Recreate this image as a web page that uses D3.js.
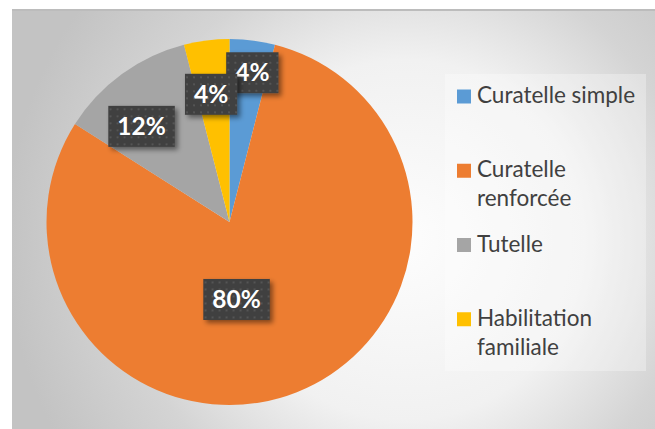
<!DOCTYPE html>
<html><head><meta charset="utf-8">
<script src="https://cdn.jsdelivr.net/npm/d3@7"></script>
<style>html,body{margin:0;padding:0;background:#fff;overflow:hidden}</style>
</head><body>
<svg id="chart" width="655" height="429"></svg>
<script>
// ---- data ----
const categories = ["Curatelle simple", "Curatelle renforcée", "Tutelle", "Habilitation familiale"];
const values = [4, 80, 12, 4];
const legendLines = [["Curatelle simple"], ["Curatelle", "renforcée"], ["Tutelle"], ["Habilitation", "familiale"]];
const colors = ["#5B9BD5", "#ED7D31", "#A5A5A5", "#FFC000"];

// ---- layout ----
const W = 655, H = 429;
const cx = 229.5, cy = 222, R = 183;
const labelRadiusFrac = [0.825, 0.425, 0.71, 0.705];
const labelAngleShiftDeg = [1.5, 16.4, -6.6, -1.0];
const FONT = "Lato, 'Open Sans', sans-serif";

const svg = d3.select("#chart");
const defs = svg.append("defs");

const grad = defs.append("radialGradient").attr("id", "bg")
  .attr("gradientUnits", "userSpaceOnUse")
  .attr("cx", 405).attr("cy", 240).attr("r", 400);
[[0, "#fdfdfd"], [0.45, "#f1f1f1"], [0.72, "#d4d4d4"], [1, "#c3c3c3"]]
  .forEach(([o, c]) => grad.append("stop").attr("offset", o).attr("stop-color", c));

const pat = defs.append("pattern").attr("id", "dots")
  .attr("patternUnits", "userSpaceOnUse").attr("width", 7).attr("height", 7);
pat.append("rect").attr("width", 7).attr("height", 7).attr("fill", "#3f3f3f");
pat.append("rect").attr("x", 3).attr("y", 3).attr("width", 2).attr("height", 2).attr("fill", "#555555");

const shadow = defs.append("filter").attr("id", "sh")
  .attr("x", "-30%").attr("y", "-30%").attr("width", "160%").attr("height", "160%");
shadow.append("feDropShadow").attr("dx", 3).attr("dy", 3).attr("stdDeviation", 2.5)
  .attr("flood-color", "#000").attr("flood-opacity", 0.45);

// background
svg.append("rect").attr("x", 12).attr("y", 9).attr("width", W - 12).attr("height", H - 9)
  .attr("fill", "url(#bg)");
svg.append("line").attr("x1", 12).attr("x2", W).attr("y1", 10).attr("y2", 10)
  .attr("stroke", "#bcbcbc").attr("stroke-width", 2);

// pie
const pie = d3.pie().sort(null).value(d => d)(values);
const arc = d3.arc().innerRadius(0).outerRadius(R);
const g = svg.append("g").attr("transform", `translate(${cx},${cy})`);
g.selectAll("path.slice").data(pie).join("path").attr("class", "slice")
  .attr("d", arc).attr("fill", (d, i) => colors[i]);

// labels
const total = d3.sum(values);
const lg = g.append("g");
pie.forEach((d, i) => {
  const a = (d.startAngle + d.endAngle) / 2 + labelAngleShiftDeg[i] * Math.PI / 180;
  const r = labelRadiusFrac[i] * R;
  const x = r * Math.sin(a), y = -r * Math.cos(a);
  const grp = lg.append("g").attr("transform", `translate(${x},${y})`);
  const box = grp.append("rect").attr("fill", "url(#dots)").attr("filter", "url(#sh)");
  const t = grp.append("text").attr("text-anchor", "middle").attr("y", 8.5)
    .attr("font-family", FONT).attr("font-weight", "bold").attr("font-size", 24.5)
    .attr("fill", "#ffffff").text(Math.round(values[i] / total * 100) + "%");
  const tw = t.node().getComputedTextLength();
  const bw = tw + 18, bh = 41;
  box.attr("x", -bw / 2).attr("y", -bh / 2).attr("width", bw).attr("height", bh);
});

// legend
const legX = 445, legY = 74, legW = 201, legH = 297;
svg.append("rect").attr("x", legX).attr("y", legY).attr("width", legW).attr("height", legH)
  .attr("fill", "#ffffff").attr("fill-opacity", 0.3);
const slot = legH / categories.length;
categories.forEach((c, i) => {
  const base = legY + i * slot + 29;
  svg.append("rect").attr("x", 457).attr("y", base - 13.5).attr("width", 14).attr("height", 14)
    .attr("fill", colors[i]);
  const t = svg.append("text").attr("x", 477).attr("y", base)
    .attr("font-family", FONT).attr("font-size", 22.5).attr("fill", "#404040");
  legendLines[i].forEach((ln, j) => {
    t.append("tspan").attr("x", 477).attr("dy", j === 0 ? 0 : 29).text(ln);
  });
});
</script>
</body></html>
